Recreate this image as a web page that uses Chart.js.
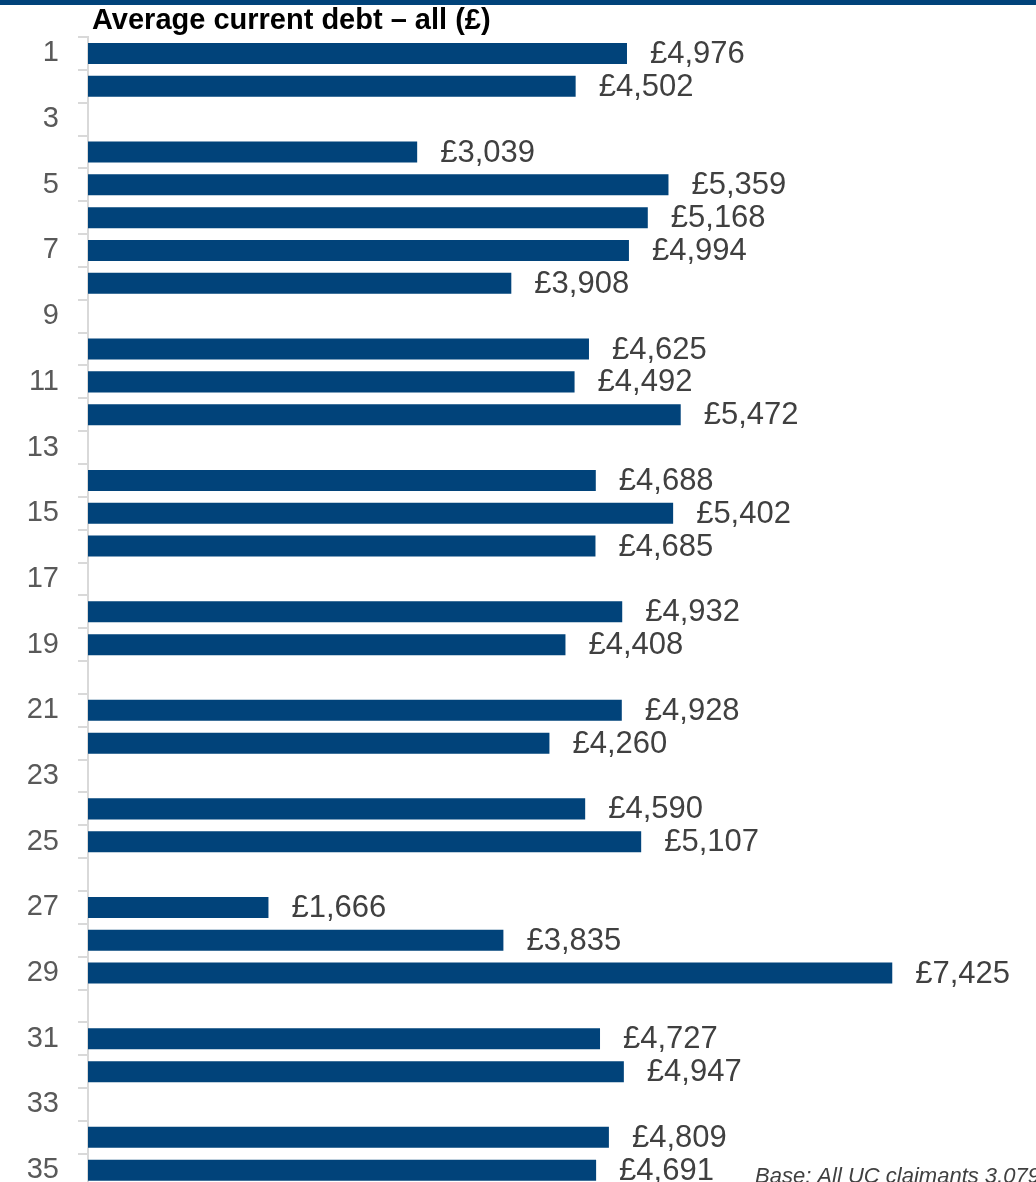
<!DOCTYPE html>
<html>
<head>
<meta charset="utf-8">
<script src="https://cdn.jsdelivr.net/npm/chart.js@4.4.1/dist/chart.umd.min.js"></script>
<style>
  html, body { margin: 0; padding: 0; background: #fff; overflow: hidden; }
  canvas { display: block; }
</style>
</head>
<body>
<!-- taller than the window: the last row runs off the bottom like in the source slide -->
<canvas id="debtChart" width="1036" height="1223"></canvas>
<script>
// Category numbers down the left side
const categories = ['1','2','3','4','5','6','7','8','9','10','11','12','13','14','15','16','17','18',
  '19','20','21','22','23','24','25','26','27','28','29','30','31','32','33','34','35'];

// Average current debt (£), null where the row is empty
const debtValues = [4976, 4502, null, 3039, 5359, 5168, 4994, 3908, null, 4625, 4492, 5472, null,
  4688, 5402, 4685, null, 4932, 4408, null, 4928, 4260, null, 4590, 5107, null, 1666, 3835, 7425,
  null, 4727, 4947, null, 4809, 4691];

const chartTitle = 'Average current debt \u2013 all (\u00a3)';
const baseNote = 'Base: All UC claimants 3,079';

const FONT = '"Liberation Sans", Arial, sans-serif';
const NAVY = '#01437a';

// draws the £ labels at the end of each bar
const valueLabels = {
    id: 'valueLabels',
    afterDatasetsDraw(chart) {
        const ctx = chart.ctx;
        const meta = chart.getDatasetMeta(0);
        ctx.save();
        ctx.font = '31px ' + FONT;
        ctx.fillStyle = '#404040';
        ctx.textAlign = 'left';
        ctx.textBaseline = 'middle';
        meta.data.forEach((bar, i) => {
            const v = debtValues[i];
            if (v === null) return;
            ctx.fillText('\u00a3' + v.toLocaleString('en-GB'), bar.x + 23, bar.y + 1);
        });
        ctx.restore();
    }
};

// top band, title and base note
const decorations = {
    id: 'decorations',
    afterDraw(chart) {
        const ctx = chart.ctx;
        ctx.save();
        ctx.fillStyle = NAVY;
        ctx.fillRect(0, 0, chart.width, 5);

        ctx.fillStyle = '#000';
        ctx.font = 'bold 29px ' + FONT;
        ctx.textBaseline = 'alphabetic';
        ctx.textAlign = 'left';
        ctx.fillText(chartTitle, 92, 29);

        ctx.fillStyle = '#404040';
        ctx.font = 'italic 22px ' + FONT;
        ctx.fillText(baseNote, 755, 1183);
        ctx.restore();
    }
};

const ctx = document.getElementById('debtChart').getContext('2d');
const debtChart = new Chart(ctx, {
    type: 'bar',
    data: {
        labels: categories,
        datasets: [{
            label: 'Average current debt',
            data: debtValues,
            backgroundColor: NAVY,
            borderWidth: 0,
            barPercentage: 0.64,
            categoryPercentage: 1
        }]
    },
    options: {
        indexAxis: 'y',
        responsive: false,
        animation: false,
        devicePixelRatio: 1,
        layout: { padding: { top: 37, bottom: 4, left: 0, right: 0 } },
        plugins: {
            legend: { display: false },
            title: { display: false },
            tooltip: { enabled: false }
        },
        scales: {
            x: {
                display: false,
                min: 0,
                max: 8752
            },
            y: {
                afterFit(scale) { scale.width = 88; },
                grid: {
                    offset: true,
                    drawOnChartArea: false,
                    drawTicks: true,
                    tickLength: 10,
                    color: '#d9d9d9',
                    lineWidth: 2
                },
                border: { color: '#d9d9d9', width: 2 },
                ticks: {
                    autoSkip: false,
                    padding: 19,
                    color: '#595959',
                    font: { family: FONT, size: 29 },
                    callback: (value, index) => index % 2 === 0 ? categories[index] : ''
                }
            }
        }
    },
    plugins: [valueLabels, decorations]
});
</script>
</body>
</html>
